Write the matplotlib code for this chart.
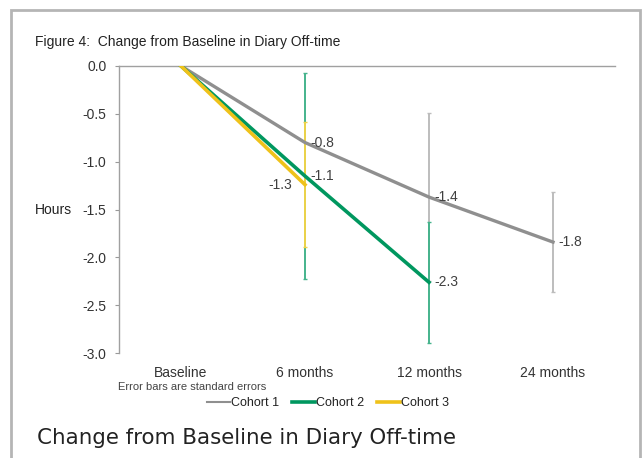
import matplotlib.pyplot as plt
from matplotlib.patches import Rectangle

# data
categories = ['Baseline', '6 months', '12 months', '24 months']
cohort1 = [0.0, -0.80, -1.37, -1.84]
cohort2 = [0.0, -1.15, -2.26]
cohort3 = [0.0, -1.24]
err1 = [None, None, 0.88, 0.52]
err2 = [None, 1.08, 0.63]
err3 = [None, 0.65]
labels1 = ['-0.8', '-1.4', '-1.8']
labels2 = ['-1.1', '-2.3']
labels3 = ['-1.3']
yticks = [0.0, -0.5, -1.0, -1.5, -2.0, -2.5, -3.0]

plt.rcParams['font.family'] = ['Liberation Sans', 'DejaVu Sans']

fig = plt.figure(figsize=(6.43, 4.58), dpi=100)
ax = fig.add_axes([0.185, 0.229, 0.7715, 0.627])

c1, c2, c3 = '#8f8f8f', '#00975f', '#efc21a'
e1, e2, e3 = '#bdbdbd', '#45b38c', '#efd34a'

# error bars (only where given)
def draw_err(vals, errs, col):
    xs = [i for i, e in enumerate(errs) if e is not None]
    ys = [vals[i] for i in xs]
    es = [errs[i] for i in xs]
    ax.errorbar(xs, ys, yerr=es, fmt='none', ecolor=col, elinewidth=1.4,
                capsize=1.5, capthick=1.0, zorder=2)

draw_err(cohort1, err1, e1)
draw_err(cohort2, err2, e2)
draw_err(cohort3, err3, e3)

ax.plot(range(len(cohort1)), cohort1, color=c1, lw=2.4, zorder=3, label='Cohort 1')
ax.plot(range(len(cohort2)), cohort2, color=c2, lw=2.6, zorder=4, label='Cohort 2')
ax.plot(range(len(cohort3)), cohort3, color=c3, lw=2.6, zorder=5, label='Cohort 3')

# data labels
lab_kw = dict(fontsize=10, color='#404040', va='center')
for i, t in enumerate(labels1):
    ax.text(i + 1 + 0.04, cohort1[i + 1], t, ha='left', **lab_kw)
for i, t in enumerate(labels2):
    ax.text(i + 1 + 0.04, cohort2[i + 1], t, ha='left', **lab_kw)
for i, t in enumerate(labels3):
    ax.text(i + 1 - 0.1, cohort3[i + 1], t, ha='right', **lab_kw)

ax.set_xlim(-0.5, 3.5)
ax.set_ylim(-3.0, 0.0)
ax.set_yticks(yticks)
ax.set_yticklabels(['%.1f' % v for v in yticks], fontsize=10, color='#333333')
ax.set_xticks(range(len(categories)))
ax.set_xticklabels(categories, fontsize=10, color='#333333')
ax.tick_params(axis='x', length=0, pad=9)
ax.tick_params(axis='y', length=3, color='#999999', pad=6)

for s in ['right', 'bottom']:
    ax.spines[s].set_visible(False)
ax.spines['left'].set_color('#a0a0a0')
ax.spines['top'].set_color('#a0a0a0')
ax.spines['left'].set_linewidth(1.0)
ax.spines['top'].set_linewidth(1.0)

fig.text(35 / 643, 1 - 42 / 458, 'Figure 4:  Change from Baseline in Diary Off-time',
         fontsize=10, color='#222222', va='center')
fig.text(35 / 643, 1 - 210 / 458, 'Hours', fontsize=10, color='#222222', va='center')
fig.text(118 / 643, 1 - 387 / 458, 'Error bars are standard errors',
         fontsize=8, color='#444444', va='center')

leg = fig.legend(loc='center', bbox_to_anchor=(328 / 643, 1 - 403 / 458), ncol=3,
                 frameon=False, fontsize=9, handlelength=1.8, handletextpad=0.05,
                 columnspacing=1.1)
for t in leg.get_texts():
    t.set_color('#222222')
leg.get_lines()[0].set_linewidth(1.5)

fig.text(37 / 643, 1 - 438 / 458, 'Change from Baseline in Diary Off-time',
         fontsize=15.4, color='#222222', va='center', family=['DejaVu Sans'])

fig.patches.append(Rectangle((11 / 643, -0.05), (640 - 11) / 643, 1.05 - 10 / 458,
                             transform=fig.transFigure, fill=False,
                             edgecolor='#b5b5b5', lw=2))

fig.savefig('out.png', dpi=100)
